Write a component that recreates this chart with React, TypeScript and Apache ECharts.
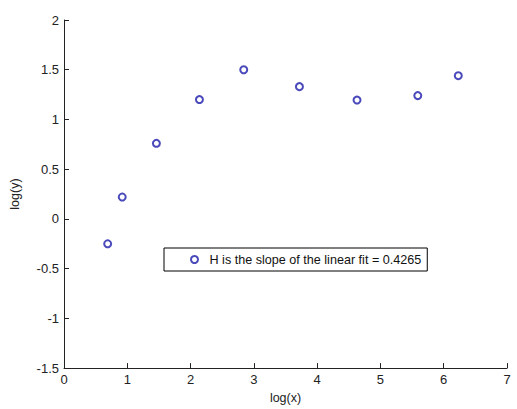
import React, { useEffect, useRef } from "react";
import * as echarts from "echarts";

const xValues = [0.69, 0.92, 1.46, 2.14, 2.84, 3.72, 4.63, 5.59, 6.23];
const yValues = [-0.25, 0.22, 0.76, 1.2, 1.5, 1.33, 1.195, 1.24, 1.44];
const seriesName = "H is the slope of the linear fit = 0.4265";
const xAxisName = "log(x)";
const yAxisName = "log(y)";

export default function App() {
  const ref = useRef<HTMLDivElement>(null);
  useEffect(() => {
    if (!ref.current) return;
    const chart = echarts.init(ref.current, undefined, { renderer: "svg" });
    const font = "Liberation Sans, Arial, sans-serif";
    const axisColor = "#222";
    chart.setOption({
      animation: false,
      backgroundColor: "#fff",
      textStyle: { fontFamily: font },
      grid: { left: 61, top: 20, right: 10, bottom: 37 },
      legend: {
        data: [seriesName],
        left: 164,
        top: 248,
        orient: "vertical",
        borderColor: "#000",
        borderWidth: 1,
        padding: [5, 6, 5, 26],
        itemWidth: 20,
        itemHeight: 7,
        textStyle: { fontFamily: font, fontSize: 12.6, color: "#111" },
      },
      xAxis: {
        type: "value",
        min: 0,
        max: 7,
        interval: 1,
        name: xAxisName,
        nameLocation: "middle",
        nameGap: 19,
        nameTextStyle: { fontFamily: font, fontSize: 12.5, color: "#222" },
        axisLine: { show: true, onZero: false, lineStyle: { color: axisColor, width: 1 } },
        axisTick: { show: true, inside: true, length: 5, lineStyle: { color: axisColor } },
        axisLabel: { margin: 5, fontSize: 13, color: "#222", fontFamily: font },
        splitLine: { show: false },
      },
      yAxis: {
        type: "value",
        min: -1.5,
        max: 2,
        interval: 0.5,
        name: yAxisName,
        nameLocation: "middle",
        nameGap: 43,
        nameTextStyle: { fontFamily: font, fontSize: 12.5, color: "#222" },
        axisLine: { show: true, onZero: false, lineStyle: { color: axisColor, width: 1 } },
        axisTick: { show: true, inside: true, length: 5, lineStyle: { color: axisColor } },
        axisLabel: { margin: 5, fontSize: 13, color: "#222", fontFamily: font },
        splitLine: { show: false },
      },
      series: [
        {
          name: seriesName,
          type: "scatter",
          symbol: "emptyCircle",
          symbolSize: 7,
          itemStyle: { color: "#1c1caa", borderColor: "#1c1caa", borderWidth: 1 },
          data: xValues.map((x, i) => [x, yValues[i]]),
        },
      ],
    });
    return () => chart.dispose();
  }, []);
  return <div ref={ref} style={{ width: 517, height: 409, position: "absolute", left: 0, top: 0 }} />;
}
